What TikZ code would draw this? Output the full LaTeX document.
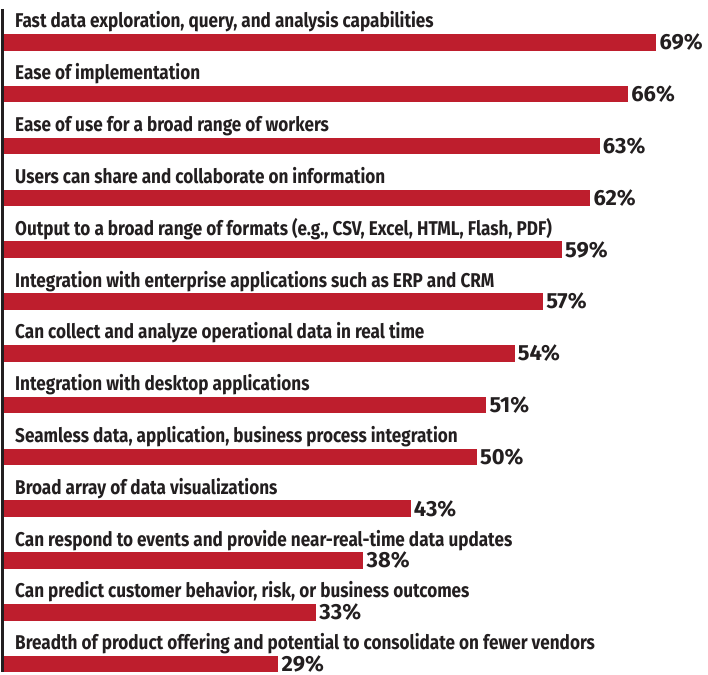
\documentclass[tikz,border=0pt]{standalone}
\usepackage{fontspec}
\newfontfamily\barfont[FakeStretch=0.86]{Fira Sans}
\newfontfamily\pctfont{Fira Sans}
\definecolor{barred}{HTML}{BE1E2D}
\definecolor{inkgray}{HTML}{231F20}

\tikzset{
  barlabel/.style={anchor=base west, inner sep=0pt, text=inkgray,
    font=\barfont\bfseries\fontsize{20}{20}\selectfont},
  pctlabel/.style={anchor=base west, inner sep=0pt, text=inkgray,
    font=\pctfont\bfseries\fontsize{22}{22}\selectfont},
  hbar/.style={fill=barred, draw=none, inner sep=0pt, anchor=north west,
    minimum height=16.5bp}
}

\begin{document}
\begin{tikzpicture}[x=1bp,y=-1bp]

  \useasboundingbox (0,0) rectangle (708,675);

  % left axis
  \coordinate (axtop) at (2.5,9);
  \coordinate (axbot) at (2.5,672);
  \draw[inkgray, line width=2bp] (axtop) -- (axbot);

  % rows: label, bar, percentage
  \foreach \txt/\val [count=\i from 0] in {
      {Fast data exploration, query, and analysis capabilities}/69,
      {Ease of implementation}/66,
      {Ease of use for a broad range of workers}/63,
      {Users can share and collaborate on information}/62,
      {Output to a broad range of formats (e.g., CSV, Excel, HTML, Flash, PDF)}/59,
      {Integration with enterprise applications such as ERP and CRM}/57,
      {Can collect and analyze operational data in real time}/54,
      {Integration with desktop applications}/51,
      {Seamless data, application, business process integration}/50,
      {Broad array of data visualizations}/43,
      {Can respond to events and provide near-real-time data updates}/38,
      {Can predict customer behavior, risk, or business outcomes}/33,
      {Breadth of product offering and potential to consolidate on fewer vendors}/29}{
    \pgfmathsetmacro{\ytop}{34+51.8*\i}
    \pgfmathsetmacro{\barw}{9.45*\val}
    \node[barlabel] (lab\i) at (15,\ytop-6) {\txt};
    \node[hbar, minimum width=\barw bp] (bar\i) at (4,\ytop) {};
    \node[pctlabel] (pct\i) at ([xshift=3bp,yshift=1bp]bar\i.south east) {\val\%};
  }

\end{tikzpicture}
\end{document}
